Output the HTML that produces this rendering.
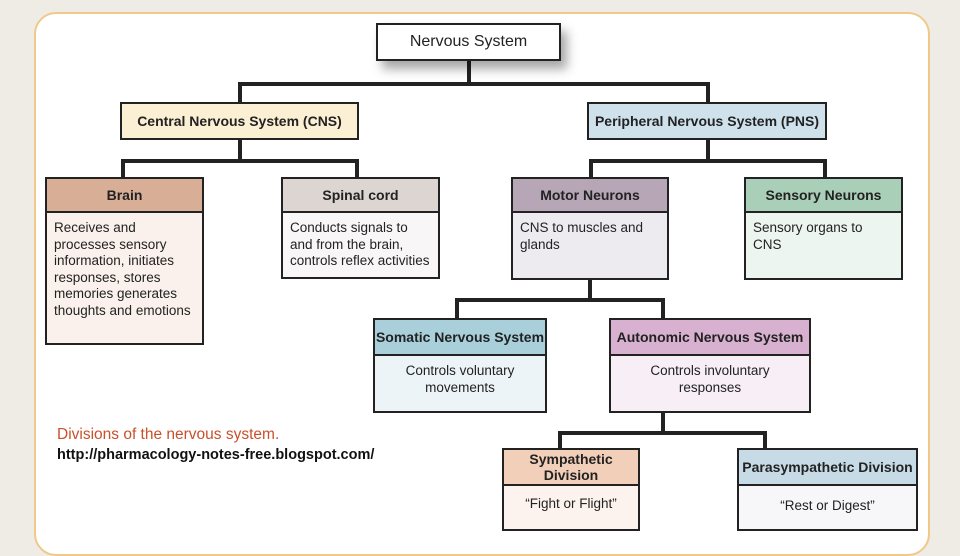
<!DOCTYPE html>
<html><head><style>
body{margin:0;width:960px;height:540px;background:#efebe5;position:relative;overflow:hidden;font-family:"Liberation Sans",sans-serif;}
.panel{position:absolute;left:34px;top:12px;width:892px;height:540px;background:#fff;border:2px solid #f0c98a;border-radius:22px;}
.b{position:absolute;border:2.5px solid #222;box-sizing:border-box;color:#222;}
.h{font-weight:bold;font-size:14px;text-align:center;border-bottom:2px solid #222;box-sizing:border-box;display:flex;align-items:center;justify-content:center;}
.t{font-size:13.5px;line-height:16.5px;padding:7px 7px;}
.c{text-align:center;}
.l{position:absolute;background:#222;}
</style></head><body>
<div class="panel"></div>
<!-- lines -->
<div class="l" style="left:467px;top:60px;width:4px;height:26px"></div>
<div class="l" style="left:238px;top:82px;width:471px;height:4px"></div>
<div class="l" style="left:238px;top:82px;width:4px;height:21px"></div>
<div class="l" style="left:706px;top:82px;width:4px;height:21px"></div>
<div class="l" style="left:238px;top:138px;width:4px;height:24px"></div>
<div class="l" style="left:121px;top:159px;width:237px;height:4px"></div>
<div class="l" style="left:121px;top:159px;width:4px;height:19px"></div>
<div class="l" style="left:355px;top:159px;width:4px;height:19px"></div>
<div class="l" style="left:706px;top:138px;width:4px;height:24px"></div>
<div class="l" style="left:589px;top:159px;width:238px;height:4px"></div>
<div class="l" style="left:589px;top:159px;width:4px;height:19px"></div>
<div class="l" style="left:823px;top:159px;width:4px;height:19px"></div>
<div class="l" style="left:588px;top:278px;width:4px;height:24px"></div>
<div class="l" style="left:455px;top:298px;width:210px;height:4px"></div>
<div class="l" style="left:455px;top:298px;width:4px;height:21px"></div>
<div class="l" style="left:661px;top:298px;width:4px;height:21px"></div>
<div class="l" style="left:661px;top:411px;width:4px;height:23px"></div>
<div class="l" style="left:558px;top:431px;width:209px;height:4px"></div>
<div class="l" style="left:558px;top:431px;width:4px;height:18px"></div>
<div class="l" style="left:763px;top:431px;width:4px;height:18px"></div>
<!-- boxes -->
<div class="b" style="left:376px;top:23px;width:185px;height:38px;background:#fff;box-shadow:6px 8px 10px rgba(0,0,0,.35);font-size:16px;display:flex;align-items:center;justify-content:center;">Nervous System</div>
<div class="b h" style="left:120px;top:102px;width:239px;height:38px;background:#fcf0d4;border:2.5px solid #222;">Central Nervous System (CNS)</div>
<div class="b h" style="left:587px;top:102px;width:240px;height:38px;background:#cfe2ec;border:2.5px solid #222;">Peripheral Nervous System (PNS)</div>

<div class="b" style="left:45px;top:177px;width:159px;height:168px;background:#fbf1ec;"><div class="h" style="height:34px;background:#d9ae97">Brain</div><div class="t">Receives and processes sensory information, initiates responses, stores memories generates thoughts and emotions</div></div>
<div class="b" style="left:281px;top:177px;width:159px;height:102px;background:#f8f6f6;"><div class="h" style="height:34px;background:#ddd5d2">Spinal cord</div><div class="t">Conducts signals to and from the brain, controls reflex activities</div></div>
<div class="b" style="left:511px;top:177px;width:158px;height:103px;background:#eeebf0;"><div class="h" style="height:34px;background:#b7a6b6">Motor Neurons</div><div class="t">CNS to muscles and glands</div></div>
<div class="b" style="left:744px;top:177px;width:159px;height:103px;background:#ecf5ef;"><div class="h" style="height:34px;background:#a9cfb8">Sensory Neurons</div><div class="t">Sensory organs to CNS</div></div>

<div class="b" style="left:373px;top:318px;width:174px;height:95px;background:#edf4f7;"><div class="h" style="height:36px;background:#a9d0da">Somatic Nervous System</div><div class="t c">Controls voluntary movements</div></div>
<div class="b" style="left:609px;top:318px;width:202px;height:95px;background:#f7eef6;"><div class="h" style="height:36px;background:#d8b0d0">Autonomic Nervous System</div><div class="t c">Controls involuntary responses</div></div>

<div class="b" style="left:502px;top:448px;width:138px;height:83px;background:#fdf3ee;"><div class="h" style="height:36px;background:#f2cfb8">Sympathetic Division</div><div class="t c" style="padding-top:10px">“Fight or Flight”</div></div>
<div class="b" style="left:737px;top:448px;width:181px;height:83px;background:#f7f7f9;"><div class="h" style="height:36px;background:#c7dbe6">Parasympathetic Division</div><div class="t c" style="padding-top:12px">“Rest or Digest”</div></div>

<div style="position:absolute;left:57px;top:426px;font-size:15.5px;color:#c8502a;">Divisions of the nervous system.</div>
<div style="position:absolute;left:57px;top:447px;font-size:14.5px;font-weight:bold;color:#111;">http://pharmacology-notes-free.blogspot.com/</div>
</body></html>
